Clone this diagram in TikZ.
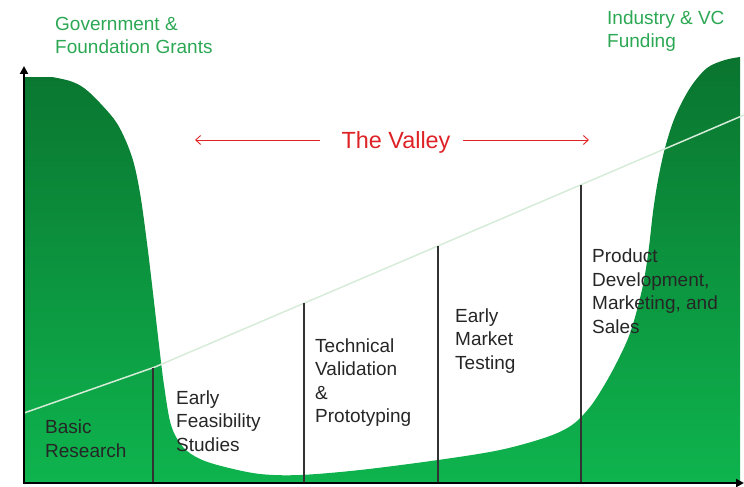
\documentclass[tikz,border=0pt]{standalone}
\usepackage{fontspec}
\setmainfont{Liberation Sans}
\usetikzlibrary{arrows.meta}
\definecolor{gdark}{RGB}{10,116,47}
\definecolor{glight}{RGB}{14,180,78}
\definecolor{gtext}{RGB}{44,168,84}
\definecolor{vred}{RGB}{222,34,38}
\definecolor{diag}{RGB}{214,236,216}
\definecolor{sep}{RGB}{50,50,50}
\begin{document}
\begin{tikzpicture}[x=1pt,y=-1pt,
  gtitle/.style={inner sep=0pt,anchor=base west,align=left,text=gtext,font=\fontsize{19}{23}\selectfont},
  stage/.style={inner sep=0pt,anchor=base west,align=left,text=black!85,font=\fontsize{19}{23.5}\selectfont},
  seprule/.style={draw=sep,line width=1.1pt},
  axisline/.style={draw=black,line width=2.6pt,-{Triangle[length=8pt,width=8pt]}},
  valarrow/.style={draw=vred,line width=0.9pt,-{Straight Barb[length=5pt,width=9pt]}}]
\useasboundingbox (0,0) rectangle (744,487);
% green fill
\shade[top color=gdark,bottom color=glight]
  (24,483) -- (24,77) -- (52,77)
  -- plot[smooth,tension=0.55] coordinates {(52,77) (70,81) (84,88) (100,103) (118,125) (132,157) (140,193) (147,243) (153,293) (159,345) (164,385) (171,425) (183,447) (200,459) (225,467) (260,474) (300,475) (360,470) (438,460) (500,450) (547,437) (572,425) (590,407) (605,384) (618,360) (629,336) (637,310) (644,280) (649,247) (653,212) (658,180) (665,148) (675,117) (690,88) (707,68) (725,60) (740,57)}
  -- (740,483) -- cycle;
% diagonal line
\coordinate (d0) at (24,413);
\coordinate (d1) at (155,367);
\coordinate (d2) at (744,115);
\draw[diag,line width=1.5pt] (d0) -- (d1) -- (d2);
% separators
\coordinate (s1t) at (153,367.7); \coordinate (s1b) at (153,483);
\coordinate (s2t) at (304,303.2); \coordinate (s2b) at (304,483);
\coordinate (s3t) at (438,245.9); \coordinate (s3b) at (438,483);
\coordinate (s4t) at (581,184.7); \coordinate (s4b) at (581,483);
\draw[seprule] (s1t) -- (s1b);
\draw[seprule] (s2t) -- (s2b);
\draw[seprule] (s3t) -- (s3b);
\draw[seprule] (s4t) -- (s4b);
% axes
\coordinate (o) at (24,483);
\coordinate (ytop) at (24,66);
\coordinate (xend) at (744,483);
\draw[axisline] (o) -- (ytop);
\draw[axisline] ([xshift=-1.3pt]o) -- (xend);
% titles (anchor = baseline of last line)
\node[gtitle] (gov) at (55,53) {Government \&\\Foundation Grants};
\node[gtitle] (ind) at (607,48) {Industry \& VC\\Funding};
% valley
\node[inner sep=0pt,anchor=base,text=vred,font=\fontsize{23.4}{26}\selectfont] (valley) at (396,148) {The Valley};
\coordinate (la) at (320,140); \coordinate (lb) at (195,140);
\coordinate (ra) at (463,140); \coordinate (rb) at (589,140);
\draw[valarrow] (la) -- (lb);
\draw[valarrow] (ra) -- (rb);
% stages (anchor = baseline of last line)
\node[stage] (basic) at (45,457) {Basic\\Research};
\node[stage] (feas) at (176,451) {Early\\Feasibility\\Studies};
\node[stage] (tech) at (315,422.5) {Technical\\Validation\\\&\\Prototyping};
\node[stage] (market) at (455,369) {Early\\Market\\Testing};
\node[stage] (prod) at (592,333) {Product\\Development,\\Marketing, and\\Sales};
\end{tikzpicture}
\end{document}
